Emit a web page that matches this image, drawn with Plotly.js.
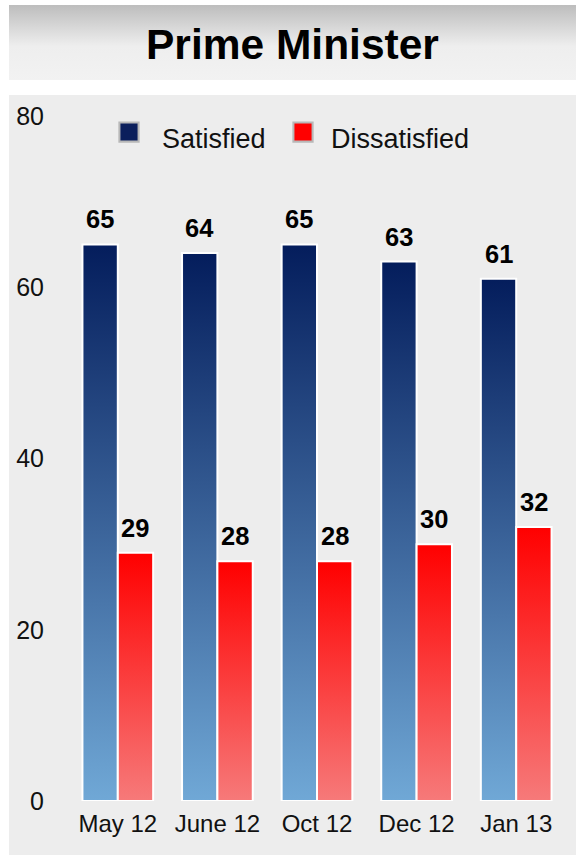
<!DOCTYPE html>
<html>
<head>
<meta charset="utf-8">
<script src="https://cdn.plot.ly/plotly-3.0.1.min.js"></script>
<style>
  html, body { margin: 0; padding: 0; background: #ffffff; }
  #chart { width: 576px; height: 857px; }
</style>
</head>
<body>
<div id="chart"></div>
<script>
// ---- data ----
const categories = ["May 12", "June 12", "Oct 12", "Dec 12", "Jan 13"];
const satisfied = [65, 64, 65, 63, 61];
const dissatisfied = [29, 28, 28, 30, 32];
const seriesNames = ["Satisfied", "Dissatisfied"];
const chartTitle = "Prime Minister";
const yTicks = [0, 20, 40, 60, 80];

// ---- layout geometry (pixels) ----
const W = 576, H = 857;
const M = { l: 68, r: 10, t: 116, b: 56 };
const plotW = W - M.l - M.r, plotH = H - M.t - M.b;
const px2x = px => (px - M.l) / plotW;
const px2y = py => (H - M.b - py) / plotH;

const FONT = "Liberation Sans, Arial, sans-serif";
const BARGAP = 0.29;
const off = (1 - BARGAP) / 4; // center offset of each bar in a group

const traces = [
  {
    type: "bar", name: seriesNames[0], x: categories, y: satisfied,
    marker: { color: "#0b1f5c", line: { color: "#ffffff", width: 2 } },
    hoverinfo: "skip"
  },
  {
    type: "bar", name: seriesNames[1], x: categories, y: dissatisfied,
    marker: { color: "#ff0000", line: { color: "#ffffff", width: 2 } },
    hoverinfo: "skip"
  }
];

const annotations = [];
[satisfied, dissatisfied].forEach((vals, s) => {
  vals.forEach((v, i) => {
    annotations.push({
      x: i + (s === 0 ? -off : off), y: v, xref: "x", yref: "y",
      text: "<b>" + v + "</b>", showarrow: false,
      yanchor: "bottom", xanchor: "center", yshift: 9,
      font: { family: FONT, size: 25.5, color: "#000000" }
    });
  });
});
annotations.push({
  x: px2x((9 + 576) / 2), y: px2y(45), xref: "paper", yref: "paper",
  text: "<b>" + chartTitle + "</b>", showarrow: false,
  xanchor: "center", yanchor: "middle",
  font: { family: FONT, size: 42.5, color: "#000000" }
});

const layout = {
  width: W, height: H,
  margin: M,
  paper_bgcolor: "#ffffff",
  plot_bgcolor: "rgba(0,0,0,0)",
  barmode: "group", bargap: BARGAP, bargroupgap: 0,
  showlegend: true,
  legend: {
    orientation: "h", x: px2x(122), y: px2y(113), xanchor: "left", yanchor: "top",
    entrywidth: 124, entrywidthmode: "pixels",
    bgcolor: "rgba(0,0,0,0)", font: { family: FONT, size: 27, color: "#111111" },
    itemclick: false, itemdoubleclick: false
  },
  xaxis: {
    type: "category", showgrid: false, zeroline: false, showline: false,
    ticks: "", ticklabelstandoff: 6,
    tickfont: { family: FONT, size: 24, color: "#111111" }
  },
  yaxis: {
    range: [0, 80], tickvals: yTicks, ticktext: yTicks.map(String),
    showgrid: false, zeroline: false, showline: false,
    ticks: "", ticklabelstandoff: 23,
    tickfont: { family: FONT, size: 25, color: "#111111" }
  },
  shapes: [
    { type: "rect", xref: "paper", yref: "paper", layer: "below",
      x0: px2x(9), x1: px2x(576), y0: px2y(80), y1: px2y(5),
      fillcolor: "#f2f2f2", line: { width: 0 } },
    { type: "rect", xref: "paper", yref: "paper", layer: "below",
      x0: px2x(9), x1: px2x(576), y0: px2y(855), y1: px2y(95),
      fillcolor: "#ededed", line: { width: 0 } }
  ],
  annotations: annotations
};

function addGrad(defs, id, stops) {
  if (document.getElementById(id)) return;
  const ns = "http://www.w3.org/2000/svg";
  const g = document.createElementNS(ns, "linearGradient");
  g.setAttribute("id", id);
  g.setAttribute("x1", "0"); g.setAttribute("y1", "0");
  g.setAttribute("x2", "0"); g.setAttribute("y2", "1");
  stops.forEach(([o, c]) => {
    const s = document.createElementNS(ns, "stop");
    s.setAttribute("offset", o); s.setAttribute("stop-color", c);
    g.appendChild(s);
  });
  defs.appendChild(g);
}

const iconShift = [-13, -8];

function decorate(gd) {
  const svg = gd.querySelector("svg.main-svg");
  if (!svg) return;
  let defs = svg.querySelector("defs");
  if (!defs) { defs = document.createElementNS("http://www.w3.org/2000/svg", "defs"); svg.insertBefore(defs, svg.firstChild); }
  addGrad(defs, "gradSat", [["0", "#041d5c"], ["1", "#70a8d6"]]);
  addGrad(defs, "gradDis", [["0", "#ff0000"], ["1", "#f67a7a"]]);
  addGrad(defs, "gradTitle", [["0", "#bdbdbd"], ["0.55", "#eeeeee"], ["1", "#f2f2f2"]]);
  const ids = ["gradSat", "gradDis"];
  gd.querySelectorAll(".barlayer .trace").forEach((tr, i) => {
    tr.querySelectorAll(".point path").forEach(p => { p.style.fill = "url(#" + ids[i] + ")"; });
  });
  const sp = gd.querySelector('.shapelayer path[data-index="0"]');
  if (sp) sp.style.fill = "url(#gradTitle)";
  const leg = gd.querySelector(".legend");
  if (leg) {
    leg.removeAttribute("clip-path");
    leg.querySelectorAll("[clip-path]").forEach(el => el.removeAttribute("clip-path"));
  }
  gd.querySelectorAll(".legend .traces").forEach((tr, i) => {
    const lp = tr.querySelector(".legendpoints");
    if (!lp || lp.getAttribute("data-dec")) return;
    lp.setAttribute("data-dec", "1");
    const base = lp.getAttribute("transform") || "";
    lp.setAttribute("transform", base + " translate(" + iconShift[i] + ",-5)");
    lp.querySelectorAll("path").forEach(p => {
      const t = p.getAttribute("transform") || "";
      p.setAttribute("transform", t + " scale(1.6)");
      p.style.stroke = "#b8b8b8";
      p.style.strokeWidth = "1.3px";
    });
  });
}

const gd = document.getElementById("chart");
Plotly.newPlot(gd, traces, layout, { staticPlot: true, displayModeBar: false }).then(() => {
  decorate(gd);
  gd.on && gd.on("plotly_afterplot", () => decorate(gd));
});
</script>
</body>
</html>
